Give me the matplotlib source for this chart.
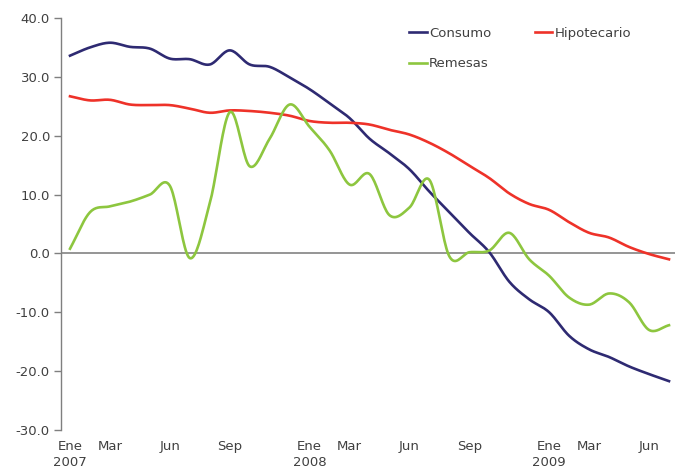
import numpy as np
import matplotlib
matplotlib.use("Agg")
import matplotlib.pyplot as plt


# data, monthly Ene 2007 .. Jul 2009
months = list(range(31))
consumo = [33.6, 35.0, 35.8, 35.1, 34.8, 33.1, 33.0, 32.1, 34.5, 32.1,
           31.7, 29.9, 27.9, 25.5, 23.0, 19.5, 17.0, 14.3, 10.5, 7.0,
           3.5, 0.2, -4.8, -7.8, -10.0, -14.0, -16.3, -17.6, -19.2, -20.5,
           -21.7]
hipotecario = [26.7, 26.0, 26.1, 25.3, 25.2, 25.2, 24.6, 23.9, 24.3, 24.2,
               23.9, 23.4, 22.5, 22.2, 22.2, 21.9, 21.0, 20.2, 18.8, 17.0,
               14.9, 12.8, 10.2, 8.4, 7.4, 5.3, 3.5, 2.7, 1.1, -0.1,
               -1.0]
remesas = [0.8, 7.0, 8.0, 8.8, 10.0, 11.5, -0.8, 8.5, 24.0, 14.8,
           19.5, 25.3, 21.5, 17.5, 11.7, 13.5, 6.5, 7.8, 12.5, -0.5,
           0.2, 0.5, 3.5, -1.0, -3.8, -7.5, -8.7, -6.8, -8.3, -13.0,
           -12.2]

tick_pos = [0, 2, 5, 8, 12, 14, 17, 20, 24, 26, 29]
tick_labels = ["Ene\n2007", "Mar", "Jun", "Sep", "Ene\n2008", "Mar", "Jun",
               "Sep", "Ene\n2009", "Mar", "Jun"]


def smooth(x, y, n=20):
    # catmull-rom curve through the points, like a smoothed excel line
    x = np.asarray(x, float)
    y = np.asarray(y, float)
    px = np.concatenate([[2 * x[0] - x[1]], x, [2 * x[-1] - x[-2]]])
    py = np.concatenate([[2 * y[0] - y[1]], y, [2 * y[-1] - y[-2]]])
    t = np.linspace(0, 1, n, endpoint=False)
    xs, ys = [], []
    for i in range(1, len(px) - 2):
        for p, out in ((px, xs), (py, ys)):
            p0, p1, p2, p3 = p[i - 1], p[i], p[i + 1], p[i + 2]
            out.extend(0.5 * (2 * p1 + (-p0 + p2) * t
                              + (2 * p0 - 5 * p1 + 4 * p2 - p3) * t ** 2
                              + (-p0 + 3 * p1 - 3 * p2 + p3) * t ** 3))
    xs.append(x[-1])
    ys.append(y[-1])
    return xs, ys


plt.rcParams['font.family'] = ['DejaVu Sans']

fig = plt.figure(figsize=(6.75, 4.7), dpi=100)
ax = fig.add_axes([0.0904, 0.0851, 0.9096, 0.8766])

ax.axhline(0, color="#8c8c8c", lw=1.3, zorder=1)

l1, = ax.plot(*smooth(months, consumo), color="#2e2a72", lw=1.9, label="Consumo")
l2, = ax.plot(*smooth(months, hipotecario), color="#ee3229", lw=1.9, label="Hipotecario")
l3, = ax.plot(*smooth(months, remesas), color="#8dc63f", lw=1.9, label="Remesas")

ax.set_xlim(-0.45, 30.3)
ax.set_ylim(-30, 40)
ax.set_yticks(np.arange(-30, 41, 10))
ax.set_yticklabels([f"{v:.1f}" for v in np.arange(-30, 41, 10)])
ax.set_xticks(tick_pos)
ax.set_xticklabels(tick_labels)

for s in ["top", "right", "bottom"]:
    ax.spines[s].set_visible(False)
ax.spines["left"].set_color("#7f7f7f")
ax.spines["left"].set_linewidth(1.0)
ax.tick_params(axis="y", colors="#7f7f7f", length=5, width=1.0, pad=3,
               labelcolor="#404040", labelsize=9.5)
ax.tick_params(axis="x", length=0, pad=7, labelcolor="#404040", labelsize=9.5)
for lab in ax.get_xticklabels():
    lab.set_linespacing(1.3)

ax.legend([l1, l3, l2], ["Consumo", "Remesas", "Hipotecario"], ncol=2,
          loc="upper left", bbox_to_anchor=(0.548, 1.008), frameon=False,
          handlelength=1.3, handletextpad=0.2, columnspacing=3.3,
          labelspacing=1.35, fontsize=9.5, labelcolor="#404040")

fig.savefig("out.png", dpi=100)
